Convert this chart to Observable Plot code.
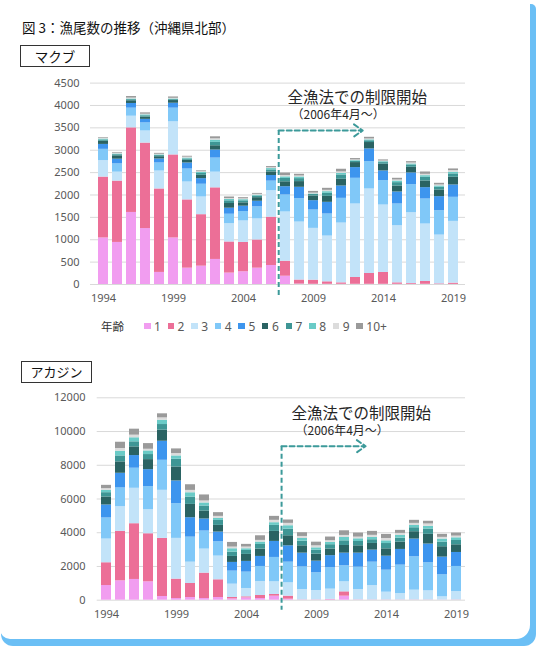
<!DOCTYPE html>
<html><head><meta charset="utf-8">
<script src="https://cdn.jsdelivr.net/npm/d3@7"></script>
<script src="https://cdn.jsdelivr.net/npm/@observablehq/plot@0.6"></script>
<style>
html,body{margin:0;padding:0;width:538px;height:648px;overflow:hidden;background:#fff;font-family:"Noto Sans CJK JP","Noto Sans",sans-serif;}
#shadow{position:absolute;left:1px;top:4px;width:535px;height:642px;background:#6BBFF5;border-radius:5px 5px 12px 12px;}
#card{position:absolute;left:0;top:0;width:530px;height:639px;background:#fff;border-radius:0 0 14px 10px;}
#title{position:absolute;left:22px;top:19px;font-size:13.5px;line-height:16px;color:#111;white-space:nowrap;}
.label{position:absolute;box-sizing:border-box;border:1px solid #333;text-align:center;color:#111;}
.chart{position:absolute;left:0;}
#legend{position:absolute;left:101px;top:318px;height:16px;display:flex;align-items:center;font-size:12px;color:#595959;font-family:"Noto Sans",sans-serif;}
#legend .ttl{font-family:"Noto Sans CJK JP",sans-serif;font-size:11.5px;color:#333;width:43px;flex-shrink:0;}
#legend .item{display:flex;align-items:center;width:23.6px;flex-shrink:0;white-space:nowrap;}
#legend .item:last-child{width:auto;}
#legend .sw{width:6.5px;height:6.5px;margin-right:3.5px;flex-shrink:0;}
</style>
</head><body>
<div id="shadow"></div>
<div id="card"></div>
<div id="title">図 3：漁尾数の推移（沖縄県北部）</div>
<div class="label" style="left:20px;top:45px;width:70px;height:22px;font-size:13.5px;line-height:20px;">マクブ</div>
<div class="label" style="left:21px;top:361px;width:71px;height:22px;font-size:13px;line-height:20px;">アカジン</div>
<div id="chart1" class="chart" style="top:70px"></div>
<div id="legend"></div>
<div id="chart2" class="chart" style="top:385px"></div>
<script>
const years = d3.range(1994, 2020);
const labelYears = [1994, 1999, 2004, 2009, 2014, 2019];
const ages = ["1","2","3","4","5","6","7","8","9","10+"];
const colors = ["#F19DF0","#EC6F97","#C2E3F9","#80C8F8","#3D95EE","#2A6363","#3E9695","#6ACBC7","#DCDCDC","#9A9A9A"];
const legendTitle = "年齢";
const noteTitle = "全漁法での制限開始";
const noteSub = "（2006年4月～）";

// マクブ (1994–2019) by age class
const makubu1  = [1040,940,1610,1250,270,1040,365,410,560,255,285,365,425,185,10,5,5,5,5,5,5,5,5,5,3,3];
const makubu2  = [1360,1370,1890,1910,1865,1855,1525,1150,1600,695,655,630,1080,335,90,92,55,32,152,241,264,32,17,62,12,27];
const makubu3  = [370,200,260,270,400,740,400,395,350,410,480,470,590,1100,1295,1157,1022,1336,1642,1888,1507,1276,1582,1284,1089,1380];
const makubu4  = [250,185,180,180,180,305,290,285,315,210,210,270,215,380,523,410,493,552,574,612,545,486,627,559,545,538];
const makubu5  = [110,105,105,80,90,110,135,125,180,135,120,125,125,185,254,209,261,276,239,284,216,268,262,254,314,276];
const makubu6  = [70,75,60,50,50,60,60,75,95,105,75,80,80,110,127,105,134,150,112,142,150,134,126,149,149,172];
const makubu7  = [30,25,25,30,25,20,30,40,75,60,45,35,45,75,67,35,67,97,30,40,37,75,52,82,60,75];
const makubu8  = [20,15,15,20,15,15,20,25,50,30,25,20,30,35,37,10,37,37,15,20,20,37,22,37,30,37];
const makubu9  = [15,15,20,15,15,15,20,15,30,20,20,20,20,30,22,18,30,30,15,20,15,22,22,30,22,37];
const makubu10 = [15,15,35,30,20,30,20,20,45,35,25,20,25,55,38,39,45,60,30,37,25,38,30,52,37,37];

// アカジン (1994–2019) by age class
const akajin1  = [870,1150,1230,1090,220,100,160,100,160,80,140,100,240,60,10,10,30,240,10,5,5,5,5,5,5,5];
const akajin2  = [1350,2930,3305,2850,3445,1150,830,1505,1050,80,60,180,100,180,10,10,20,255,10,10,10,10,10,10,5,10];
const akajin3  = [1405,1465,2100,1425,2850,2415,1265,1425,1405,790,495,830,750,790,615,555,605,595,615,855,460,380,580,540,190,500];
const akajin4  = [1250,1110,1190,1365,1780,2060,1485,1070,850,775,970,890,1445,1225,1345,1050,1270,950,1325,1385,1305,1685,1980,1665,1305,1485];
const akajin5  = [770,870,750,1010,1130,1345,1150,715,575,515,635,595,950,970,810,690,715,750,830,715,830,930,1050,1110,1050,830];
const akajin6  = [475,675,515,595,655,830,790,475,395,355,415,435,595,595,435,415,395,455,435,395,435,435,435,575,615,455];
const akajin7  = [255,355,300,300,335,455,435,295,295,255,235,275,355,395,275,235,255,275,255,220,315,235,235,315,275,255];
const akajin8  = [140,280,240,215,255,200,255,180,120,200,100,140,160,200,160,140,140,200,160,140,160,160,140,160,180,160];
const akajin9  = [100,160,155,100,140,140,140,120,120,100,100,100,140,140,120,120,100,120,100,120,140,120,120,140,100,100];
const akajin10 = [195,370,355,335,240,275,335,355,220,275,160,275,235,200,220,215,215,275,240,235,240,180,180,160,180,180];

const makubuTicks = d3.range(0, 4501, 500);
const akajinTicks = d3.range(0, 12001, 2000);

const teal = "#3C9A9A";
const gridColor = "#D9D9D9";

function toRows(series) {
  const rows = [];
  years.forEach((year, i) => {
    series.forEach((arr, a) => rows.push({year, age: ages[a], value: arr[i]}));
  });
  return rows;
}

function makeChart(series, o) {
  const W = 538, H = 240;
  const step = (W - o.ml - o.mr) / 26;
  const rows = toRows(series);
  return Plot.plot({
    width: W, height: H,
    marginLeft: o.ml, marginRight: o.mr, marginTop: o.mt, marginBottom: o.mb,
    style: {fontFamily: "'Noto Sans', sans-serif", fontSize: "11px", color: "#595959", background: "transparent", overflow: "visible"},
    x: {type: "band", domain: years, paddingInner: 0.3, paddingOuter: 0.15, align: 0.5, label: null,
        tickSize: 0, tickPadding: 10, tickFormat: d => labelYears.includes(d) ? String(d) : ""},
    y: {domain: [0, o.max], ticks: o.ticks, label: null, tickSize: 0, tickPadding: o.tp, tickFormat: d => String(d)},
    color: {domain: ages, range: colors},
    marks: [
      Plot.ruleY(o.ticks, {stroke: gridColor, strokeWidth: 1}),
      Plot.barY(rows, {x: "year", y: "value", fill: "age", order: ages}),
      Plot.ruleX([2006], {x: d => d, y1: o.arrowY, y2: o.lineEnd, dx: step / 2,
        stroke: teal, strokeWidth: 2, strokeDasharray: "5,3"}),
      Plot.arrow([{x1: 2006, x2: 2012, y: o.arrowY}], {x1: "x1", x2: "x2", y1: "y", y2: "y", dx: step / 2,
        stroke: teal, strokeWidth: 2, strokeDasharray: "5,3", headLength: 8, headAngle: 70}),
      Plot.text([noteTitle], {x: () => 2007, y: () => o.noteY, text: d => d, textAnchor: "start",
        dx: o.noteDx, fontSize: 15.5, fill: "#262626", fontFamily: "'Noto Sans CJK JP', sans-serif"}),
      Plot.text([noteSub], {x: () => 2007, y: () => o.subY, text: d => d, textAnchor: "start",
        dx: o.subDx, fontSize: 12, fill: "#262626", fontFamily: "'Noto Sans CJK JP', sans-serif"})
    ]
  });
}

document.getElementById("chart1").append(makeChart(
  [makubu1, makubu2, makubu3, makubu4, makubu5, makubu6, makubu7, makubu8, makubu9, makubu10],
  {ml: 90, mr: 73, mt: 12.6, mb: 26, max: 4500, ticks: makubuTicks, tp: 11,
   arrowY: 3441, lineEnd: -268, noteY: 4170, noteDx: 2, subY: 3776, subDx: 6}
));

document.getElementById("chart2").append(makeChart(
  [akajin1, akajin2, akajin3, akajin4, akajin5, akajin6, akajin7, akajin8, akajin9, akajin10],
  {ml: 96.7, mr: 73, mt: 12.3, mb: 25.3, max: 12000, ticks: akajinTicks, tp: 11.7,
   arrowY: 9130, lineEnd: -600, noteY: 11040, noteDx: 3, subY: 10000, subDx: 7}
));

const legend = document.getElementById("legend");
const lt = document.createElement("div");
lt.className = "ttl"; lt.textContent = legendTitle;
legend.append(lt);
ages.forEach((a, i) => {
  const it = document.createElement("div"); it.className = "item";
  const sw = document.createElement("div"); sw.className = "sw"; sw.style.background = colors[i];
  const tx = document.createElement("span"); tx.textContent = a;
  it.append(sw, tx); legend.append(it);
});
</script>
</body></html>
